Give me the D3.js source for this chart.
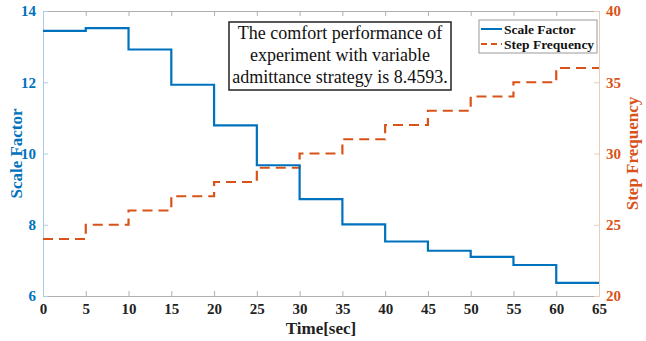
<!doctype html>
<html>
<head>
<meta charset="utf-8">
<script src="https://cdn.jsdelivr.net/npm/d3@7/dist/d3.min.js"></script>
<style>
  body { margin: 0; background: #fff; }
  text { font-family: "Liberation Serif", "Times New Roman", serif; }
</style>
</head>
<body>
<div id="chart"></div>
<script>
// time breakpoints (step start) and values
var times = [0, 5, 10, 15, 20, 25, 30, 35, 40, 45, 50, 55, 60, 65];
var scaleFactor = [13.44, 13.52, 12.92, 11.93, 10.79, 9.67, 8.72, 8.01, 7.53, 7.27, 7.10, 6.87, 6.37, 6.37];
var stepFreq = [24, 25, 26, 27, 28, 29, 30, 31, 32, 33, 34, 35, 36, 36];
var xTicks = [0, 5, 10, 15, 20, 25, 30, 35, 40, 45, 50, 55, 60, 65];
var leftTicks = [6, 8, 10, 12, 14];
var rightTicks = [20, 25, 30, 35, 40];
var noteLines = ["The comfort performance of", "experiment with variable", "admittance strategy is 8.4593."];

var width = 646, height = 341;
var margin = {top: 11, right: 47, bottom: 45, left: 43};
var blue = "#0072BD", orange = "#D95319";

var svg = d3.select("#chart").append("svg")
  .attr("width", width).attr("height", height);

var x = d3.scaleLinear().domain([0, 65]).range([margin.left, width - margin.right]);
var yL = d3.scaleLinear().domain([6, 14]).range([height - margin.bottom, margin.top]);
var yR = d3.scaleLinear().domain([20, 40]).range([height - margin.bottom, margin.top]);

function styleAxis(g, col, textCol) {
  g.select(".domain").attr("stroke", col);
  g.selectAll(".tick line").attr("stroke", col);
  g.selectAll(".tick text")
    .attr("fill", textCol)
    .style("font-size", "15px")
    .style("font-weight", "bold");
}

// bottom / top axes
var gx = svg.append("g")
  .attr("transform", "translate(0," + (height - margin.bottom) + ")")
  .call(d3.axisBottom(x).tickValues(xTicks).tickSizeInner(-5).tickSizeOuter(0).tickPadding(7));
styleAxis(gx, "#b0b0b0", "#222");

var gxt = svg.append("g")
  .attr("transform", "translate(0," + margin.top + ")")
  .call(d3.axisTop(x).tickValues(xTicks).tickSizeInner(-5).tickSizeOuter(0).tickFormat(""));
styleAxis(gxt, "#b0b0b0", "#222");

var gl = svg.append("g")
  .attr("transform", "translate(" + margin.left + ",0)")
  .call(d3.axisLeft(yL).tickValues(leftTicks).tickSizeInner(-5).tickSizeOuter(0).tickPadding(7));
styleAxis(gl, "#a9cde8", blue);

var gr = svg.append("g")
  .attr("transform", "translate(" + (width - margin.right) + ",0)")
  .call(d3.axisRight(yR).tickValues(rightTicks).tickSizeInner(-5).tickSizeOuter(0).tickPadding(7));
styleAxis(gr, "#e8cdbf", orange);

// lines
var lineL = d3.line().curve(d3.curveStepAfter)
  .x(function(d, i) { return x(times[i]); })
  .y(function(d) { return yL(d); });
var lineR = d3.line().curve(d3.curveStepAfter)
  .x(function(d, i) { return x(times[i]); })
  .y(function(d) { return yR(d); });

svg.append("path").datum(stepFreq)
  .attr("d", lineR).attr("fill", "none")
  .attr("stroke", orange).attr("stroke-width", 2.2)
  .attr("stroke-dasharray", "10,6");

svg.append("path").datum(scaleFactor)
  .attr("d", lineL).attr("fill", "none")
  .attr("stroke", blue).attr("stroke-width", 2.2);

// axis labels
svg.append("text")
  .attr("transform", "translate(16," + ((margin.top + height - margin.bottom) / 2) + ") rotate(-90)")
  .attr("text-anchor", "middle").attr("dy", "0.35em")
  .attr("fill", blue).style("font-size", "17px").style("font-weight", "bold")
  .text("Scale Factor");

svg.append("text")
  .attr("transform", "translate(632," + ((margin.top + height - margin.bottom) / 2) + ") rotate(-90)")
  .attr("text-anchor", "middle").attr("dy", "0.35em")
  .attr("fill", orange).style("font-size", "17px").style("font-weight", "bold")
  .text("Step Frequency");

svg.append("text")
  .attr("x", (margin.left + width - margin.right) / 2).attr("y", 334)
  .attr("text-anchor", "middle")
  .attr("fill", "#222").style("font-size", "17px").style("font-weight", "bold")
  .text("Time[sec]");

// annotation box
var note = svg.append("g");
note.append("rect")
  .attr("x", 229).attr("y", 22).attr("width", 222).attr("height", 68)
  .attr("fill", "#fff").attr("stroke", "#222").attr("stroke-width", 1.5);
note.selectAll("text").data(noteLines).enter().append("text")
  .attr("x", 340).attr("y", function(d, i) { return 39 + i * 22; })
  .attr("text-anchor", "middle")
  .attr("fill", "#111").style("font-size", "18px")
  .text(function(d) { return d; });

// legend
var legendItems = [
  {name: "Scale Factor", col: blue, dash: null},
  {name: "Step Frequency", col: orange, dash: "6,4"}
];
var lg = svg.append("g");
lg.append("rect")
  .attr("x", 479).attr("y", 20).attr("width", 118).attr("height", 33)
  .attr("fill", "#fff").attr("stroke", "#999").attr("stroke-width", 1);
var li = lg.selectAll("g.item").data(legendItems).enter().append("g")
  .attr("transform", function(d, i) { return "translate(0," + (29 + i * 15) + ")"; });
li.append("line")
  .attr("x1", 481).attr("x2", 502)
  .attr("stroke", function(d) { return d.col; }).attr("stroke-width", 2)
  .attr("stroke-dasharray", function(d) { return d.dash; });
li.append("text")
  .attr("x", 504).attr("dy", "0.35em")
  .attr("fill", "#111").style("font-size", "13.5px").style("font-weight", "bold")
  .text(function(d) { return d.name; });
</script>
</body>
</html>
